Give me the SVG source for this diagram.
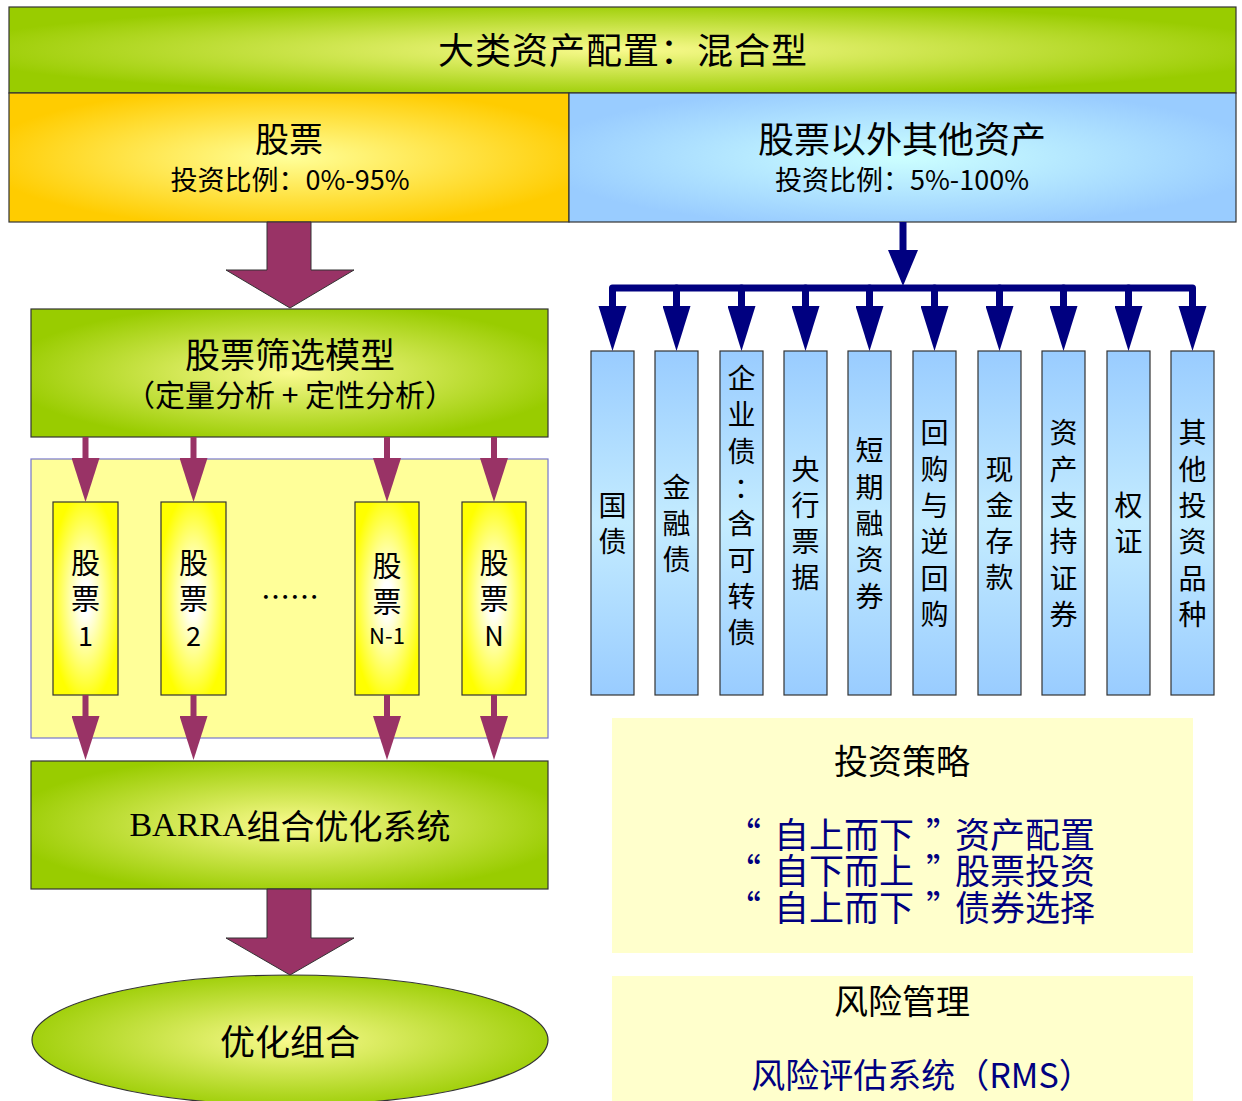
<svg xmlns="http://www.w3.org/2000/svg" width="1242" height="1101" viewBox="0 0 1242 1101">
<style>
text{font-family:"Noto Sans CJK SC","Noto Sans",sans-serif;fill:#000;text-anchor:middle;dominant-baseline:central}
.box{stroke:#333;stroke-width:1.2}
.navy{fill:#000080}
.st{text-anchor:start;font-size:35px}
.col text{font-size:28px}
.mag{stroke:#993366;stroke-width:6;fill:none}
.blu{stroke:#000080;stroke-width:7;fill:none;stroke-linejoin:round;stroke-linecap:round}
.big{fill:#993366;stroke:#333;stroke-width:1}
</style>
<defs>
<radialGradient id="gGreen" cx="0.5" cy="0.5" r="0.55"><stop offset="0" stop-color="#f9fa8e"/><stop offset="1" stop-color="#99cc00"/></radialGradient>
<radialGradient id="gOrange" cx="0.5" cy="0.5" r="0.55"><stop offset="0" stop-color="#ffff99"/><stop offset="1" stop-color="#ffcc00"/></radialGradient>
<radialGradient id="gBlue" cx="0.5" cy="0.5" r="0.55"><stop offset="0" stop-color="#ccffff"/><stop offset="1" stop-color="#99ccff"/></radialGradient>
<radialGradient id="gStock" cx="0.5" cy="0.5" r="0.55"><stop offset="0.15" stop-color="#ffffff"/><stop offset="1" stop-color="#ffff00"/></radialGradient>
<linearGradient id="gCol" x1="0" y1="0" x2="0" y2="1"><stop offset="0" stop-color="#99ccff"/><stop offset="0.5" stop-color="#c4ecff"/><stop offset="1" stop-color="#99ccff"/></linearGradient>
<marker id="mBlue" viewBox="0 0 45 28" refX="0" refY="14" markerWidth="45" markerHeight="28" markerUnits="userSpaceOnUse" orient="auto"><path d="M0,0 L45,14 L0,28 z" fill="#000080"/></marker>
<marker id="mBlueT" viewBox="0 0 36 30" refX="0" refY="15" markerWidth="36" markerHeight="30" markerUnits="userSpaceOnUse" orient="auto"><path d="M0,0 L36,15 L0,30 z" fill="#000080"/></marker>
<marker id="mMag" viewBox="0 0 44 28" refX="0" refY="14" markerWidth="44" markerHeight="28" markerUnits="userSpaceOnUse" orient="auto"><path d="M0,0 L44,14 L0,28 z" fill="#993366"/></marker>
</defs>
<rect width="1242" height="1101" fill="#fff"/>

<g id="banner"><rect class="box" x="9" y="7" width="1227" height="86" fill="url(#gGreen)"/><text x="623" y="48" font-size="36" letter-spacing="1">大类资产配置：混合型</text></g>
<g id="stock"><rect class="box" x="9" y="93" width="560" height="129" fill="url(#gOrange)"/><text x="289" y="137" font-size="34">股票</text><text x="290" y="178" font-size="27">投资比例：0%-95%</text></g>
<g id="other"><rect class="box" x="569" y="93" width="667" height="129" fill="url(#gBlue)"/><text x="902" y="137" font-size="36">股票以外其他资产</text><text x="902" y="178" font-size="27">投资比例：5%-100%</text></g>

<g id="screen"><rect class="box" x="31" y="309" width="517" height="128" fill="url(#gGreen)"/><text x="290" y="352" font-size="35">股票筛选模型</text><text x="290" y="393" font-size="30">（定量分析 + 定性分析）</text></g>
<g id="pool"><rect x="31" y="459" width="517" height="279" fill="#ffff99" stroke="#7777cc" stroke-width="1.2"/><text x="290" y="595" font-size="29">……</text></g>
<g id="s1"><rect class="box" x="53" y="502" width="65" height="193" fill="url(#gStock)"/><text x="85.5" y="561" font-size="29">股</text><text x="85.5" y="597" font-size="29">票</text><text x="85.5" y="634" font-size="27">1</text></g>
<g id="s2"><rect class="box" x="161" y="502" width="65" height="193" fill="url(#gStock)"/><text x="193.5" y="561" font-size="29">股</text><text x="193.5" y="597" font-size="29">票</text><text x="193.5" y="634" font-size="27">2</text></g>
<g id="sn1"><rect class="box" x="355" y="502" width="64" height="193" fill="url(#gStock)"/><text x="387" y="564" font-size="29">股</text><text x="387" y="600" font-size="29">票</text><text x="387" y="634" font-size="22">N-1</text></g>
<g id="sn"><rect class="box" x="462" y="502" width="64" height="193" fill="url(#gStock)"/><text x="494" y="561" font-size="29">股</text><text x="494" y="597" font-size="29">票</text><text x="494" y="634" font-size="27">N</text></g>

<g id="barra"><rect class="box" x="31" y="761" width="517" height="128" fill="url(#gGreen)"/><text x="290" y="824" font-size="34"><tspan font-family="'Liberation Serif',serif">BARRA</tspan>组合优化系统</text></g>
<g id="result"><ellipse class="box" cx="290" cy="1040" rx="258" ry="65" fill="url(#gGreen)"/><text x="290" y="1039" font-size="35">优化组合</text></g>

<g class="col">
<g id="c1"><rect class="box" x="591" y="351" width="43" height="344" fill="url(#gCol)"/><text x="612.5" y="504">国</text><text x="612.5" y="540">债</text></g>
<g id="c2"><rect class="box" x="655" y="351" width="43" height="344" fill="url(#gCol)"/><text x="676.5" y="486">金</text><text x="676.5" y="522">融</text><text x="676.5" y="558">债</text></g>
<g id="c3"><rect class="box" x="720" y="351" width="43" height="344" fill="url(#gCol)"/><text x="741.5" y="377">企</text><text x="741.5" y="413">业</text><text x="741.5" y="450">债</text><text x="748" y="486">：</text><text x="741.5" y="522">含</text><text x="741.5" y="559">可</text><text x="741.5" y="595">转</text><text x="741.5" y="631">债</text></g>
<g id="c4"><rect class="box" x="784" y="351" width="43" height="344" fill="url(#gCol)"/><text x="805.5" y="468">央</text><text x="805.5" y="504">行</text><text x="805.5" y="540">票</text><text x="805.5" y="576">据</text></g>
<g id="c5"><rect class="box" x="848" y="351" width="43" height="344" fill="url(#gCol)"/><text x="869.5" y="449">短</text><text x="869.5" y="486">期</text><text x="869.5" y="522">融</text><text x="869.5" y="558">资</text><text x="869.5" y="595">券</text></g>
<g id="c6"><rect class="box" x="913" y="351" width="43" height="344" fill="url(#gCol)"/><text x="934.5" y="431">回</text><text x="934.5" y="468">购</text><text x="934.5" y="504">与</text><text x="934.5" y="540">逆</text><text x="934.5" y="577">回</text><text x="934.5" y="613">购</text></g>
<g id="c7"><rect class="box" x="978" y="351" width="43" height="344" fill="url(#gCol)"/><text x="999.5" y="468">现</text><text x="999.5" y="504">金</text><text x="999.5" y="540">存</text><text x="999.5" y="576">款</text></g>
<g id="c8"><rect class="box" x="1042" y="351" width="43" height="344" fill="url(#gCol)"/><text x="1063.5" y="431">资</text><text x="1063.5" y="468">产</text><text x="1063.5" y="504">支</text><text x="1063.5" y="540">持</text><text x="1063.5" y="577">证</text><text x="1063.5" y="613">券</text></g>
<g id="c9"><rect class="box" x="1107" y="351" width="43" height="344" fill="url(#gCol)"/><text x="1128.5" y="504">权</text><text x="1128.5" y="540">证</text></g>
<g id="c10"><rect class="box" x="1171" y="351" width="43" height="344" fill="url(#gCol)"/><text x="1192.5" y="431">其</text><text x="1192.5" y="468">他</text><text x="1192.5" y="504">投</text><text x="1192.5" y="540">资</text><text x="1192.5" y="577">品</text><text x="1192.5" y="613">种</text></g>
</g>

<g id="strategy"><rect x="612" y="718" width="581" height="235" fill="#ffffcc"/><text x="902" y="759" font-size="34">投资策略</text>
<text class="navy st" y="832"><tspan x="726">“</tspan><tspan x="774">自上而下</tspan><tspan x="926">”</tspan><tspan x="955">资产配置</tspan></text>
<text class="navy st" y="868"><tspan x="726">“</tspan><tspan x="774">自下而上</tspan><tspan x="926">”</tspan><tspan x="955">股票投资</tspan></text>
<text class="navy st" y="905"><tspan x="726">“</tspan><tspan x="774">自上而下</tspan><tspan x="926">”</tspan><tspan x="955">债券选择</tspan></text></g>
<g id="risk"><rect x="612" y="976" width="581" height="125" fill="#ffffcc"/><text x="902" y="999" font-size="34">风险管理</text><text class="navy" x="922" y="1073" font-size="34">风险评估系统（RMS）</text></g>

<g id="connectors">
<polygon class="big" points="267,222 311,222 311,270 354,270 290,308 226,270 267,270"/>
<polygon class="big" points="267,889 311,889 311,938 354,938 290,975 226,938 267,938"/>
<line class="mag" x1="85.5" y1="437" x2="85.5" y2="458" marker-end="url(#mMag)"/>
<line class="mag" x1="193.5" y1="437" x2="193.5" y2="458" marker-end="url(#mMag)"/>
<line class="mag" x1="387" y1="437" x2="387" y2="458" marker-end="url(#mMag)"/>
<line class="mag" x1="494" y1="437" x2="494" y2="458" marker-end="url(#mMag)"/>
<line class="mag" x1="85.5" y1="695" x2="85.5" y2="716" marker-end="url(#mMag)"/>
<line class="mag" x1="193.5" y1="695" x2="193.5" y2="716" marker-end="url(#mMag)"/>
<line class="mag" x1="387" y1="695" x2="387" y2="716" marker-end="url(#mMag)"/>
<line class="mag" x1="494" y1="695" x2="494" y2="716" marker-end="url(#mMag)"/>
<line x1="903" y1="222" x2="903" y2="250" stroke="#000080" stroke-width="7" marker-end="url(#mBlueT)"/>
<path class="blu" d="M612.5,306 V288 H1192.5 V306"/>
<line class="blu" x1="676.5" y1="288" x2="676.5" y2="306" marker-end="url(#mBlue)"/>
<line class="blu" x1="741.5" y1="288" x2="741.5" y2="306" marker-end="url(#mBlue)"/>
<line class="blu" x1="805.5" y1="288" x2="805.5" y2="306" marker-end="url(#mBlue)"/>
<line class="blu" x1="869.5" y1="288" x2="869.5" y2="306" marker-end="url(#mBlue)"/>
<line class="blu" x1="934.5" y1="288" x2="934.5" y2="306" marker-end="url(#mBlue)"/>
<line class="blu" x1="999.5" y1="288" x2="999.5" y2="306" marker-end="url(#mBlue)"/>
<line class="blu" x1="1063.5" y1="288" x2="1063.5" y2="306" marker-end="url(#mBlue)"/>
<line class="blu" x1="1128.5" y1="288" x2="1128.5" y2="306" marker-end="url(#mBlue)"/>
<path d="M598.5,306 L626.5,306 L612.5,351 z M1178.5,306 L1206.5,306 L1192.5,351 z" fill="#000080"/>
</g>
</svg>
